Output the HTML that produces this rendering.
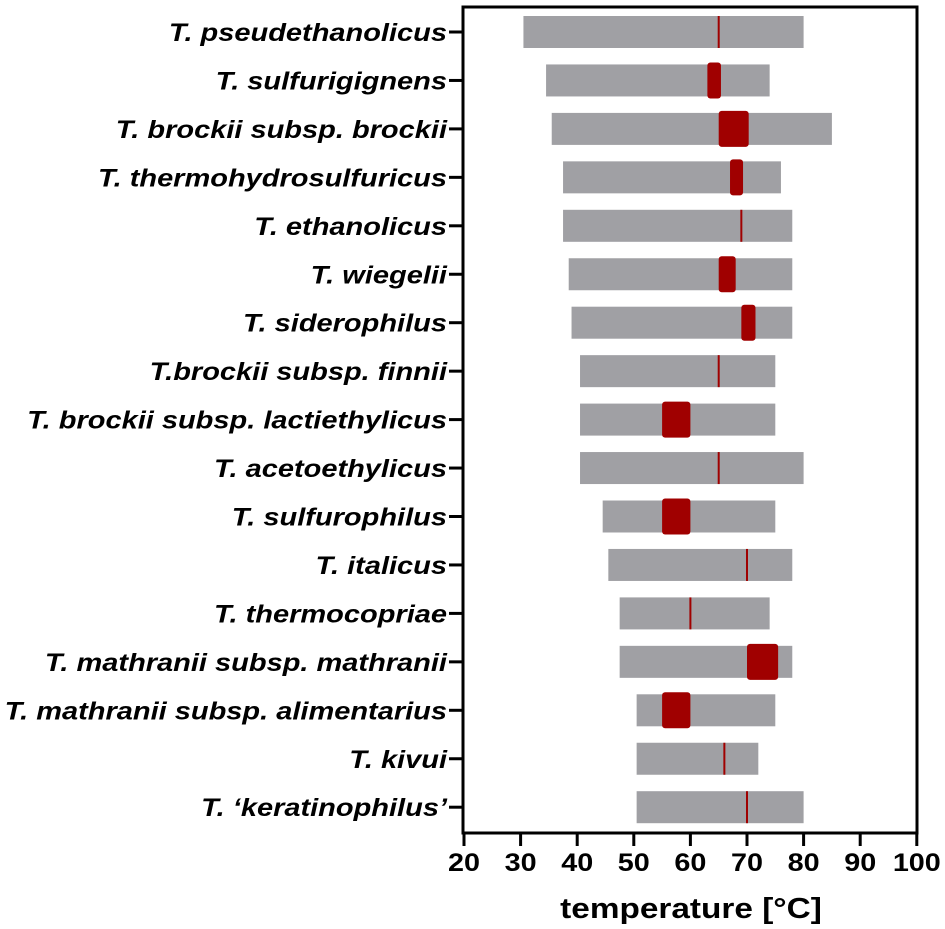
<!DOCTYPE html>
<html><head><meta charset="utf-8"><style>
html,body{margin:0;padding:0;background:#fff;}
svg{display:block;font-family:"Liberation Sans",Arial,sans-serif;}
</style></head><body>
<svg id="chart" width="945" height="929" viewBox="0 0 945 929"></svg>
<script>
const species=["T. pseudethanolicus","T. sulfurigignens","T. brockii subsp. brockii","T. thermohydrosulfuricus","T. ethanolicus","T. wiegelii","T. siderophilus","T.brockii subsp. finnii","T. brockii subsp. lactiethylicus","T. acetoethylicus","T. sulfurophilus","T. italicus","T. thermocopriae","T. mathranii subsp. mathranii","T. mathranii subsp. alimentarius","T. kivui","T. \u2018keratinophilus\u2019"];
const tMin=[30.5,34.5,35.5,37.5,37.5,38.5,39,40.5,40.5,40.5,44.5,45.5,47.5,47.5,50.5,50.5,50.5];
const tMax=[80,74,85,76,78,78,78,75,75,80,75,78,74,78,75,72,80];
const optLow=[65,63,65,67,69,65,69,65,55,65,55,70,60,70,55,66,70];
const optHigh=[65,65.4,70.3,69.3,69,68,71.5,65,60,65,60,70,60,75.5,60,66,70];
const xTicks=[20,30,40,50,60,70,80,90,100];

const NS="http://www.w3.org/2000/svg";
const svg=document.getElementById('chart');
const X0=464,PX=5.66,Y0=32,DY=48.45;
const x=v=>X0+(v-20)*PX;
const y=i=>Y0+i*DY;
function mk(t,a,p){const e=document.createElementNS(NS,t);for(const k in a)e.setAttribute(k,a[k]);(p||svg).appendChild(e);return e;}

const frame=mk('rect',{x:463,y:7,width:454,height:826,fill:'none',stroke:'#000','stroke-width':3});



species.forEach((s,i)=>{
  const cy=y(i);
  const g=mk('g',{});
  
  
  const b=mk('rect',{x:x(tMin[i]),y:cy-16,width:x(tMax[i])-x(tMin[i]),height:32,fill:'#a0a0a4'},g);
  
  
  let w=x(optHigh[i])-x(optLow[i]);
  let o;
  if(w<3){
    o=mk('rect',{x:x(optLow[i])-1,y:cy-16,width:2,height:32,fill:'#a00000'},g);
  } else {
    o=mk('rect',{x:x(optLow[i]),y:cy-18,width:w,height:36,rx:3,fill:'#a00000'},g);
  }
  
  
  const tk=mk('line',{x1:449,x2:463,y1:cy,y2:cy,stroke:'#000','stroke-width':3},g);
  
  
  const t=mk('text',{x:0,y:0,transform:'translate(447,'+(cy+9)+') scale(1.16,1)','text-anchor':'end','font-size':25,'font-weight':'bold','font-style':'italic',fill:'#000'},g);
  t.textContent=s;
  
  
});

xTicks.forEach(v=>{
  const l=mk('line',{x1:x(v),x2:x(v),y1:833,y2:846,stroke:'#000','stroke-width':3});
  
  
  const t=mk('text',{x:0,y:0,transform:'translate('+x(v)+',871) scale(1.15,1)','text-anchor':'middle','font-size':25,'font-weight':'bold',fill:'#000'});
  t.textContent=v;
  
  
});
const title=mk('text',{x:0,y:0,transform:'translate(691,918) scale(1.15,1)','text-anchor':'middle','font-size':29,'font-weight':'bold',fill:'#000'});
title.textContent='temperature [°C]';


</script>
</body></html>
